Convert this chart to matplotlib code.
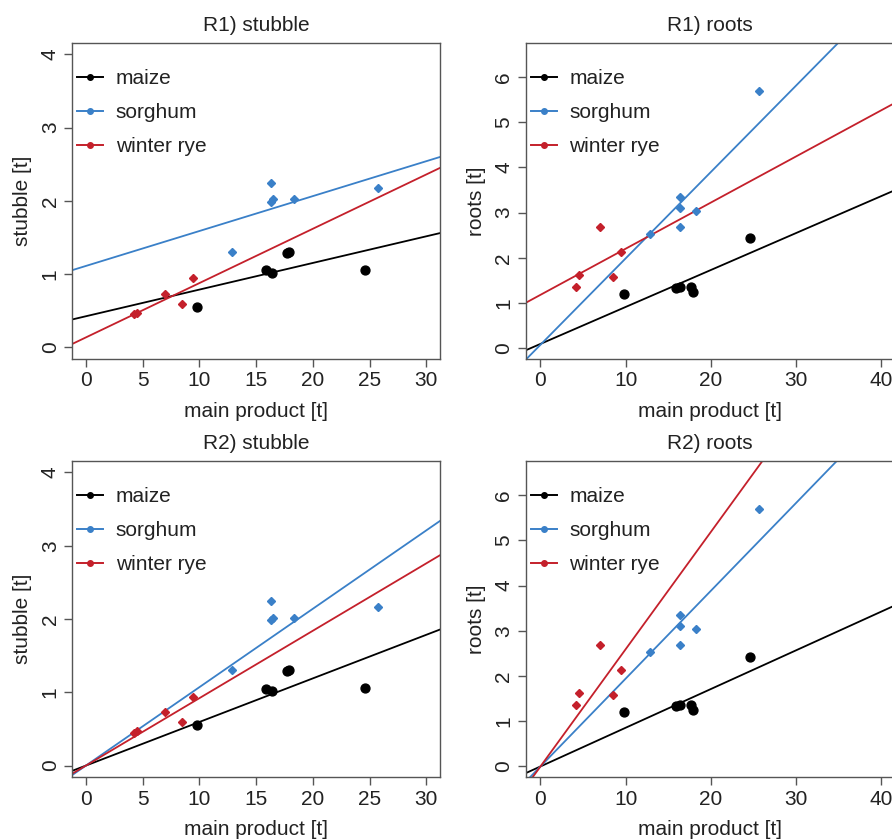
import matplotlib
matplotlib.use("Agg")
import matplotlib.pyplot as plt
import numpy as np

plt.rcParams['font.family'] = ['Liberation Sans', 'DejaVu Sans']

# ---- data ----
crops = ["maize", "sorghum", "winter rye"]
colors = ["#000000", "#3a80c8", "#c4202b"]

main_maize = [9.8, 15.9, 16.4, 17.7, 17.9, 24.6]
stubble_maize = [0.55, 1.05, 1.02, 1.29, 1.30, 1.06]
roots_maize = [1.20, 1.33, 1.35, 1.36, 1.25, 2.43]

main_sorghum = [12.9, 16.35, 16.45, 16.35, 18.3, 25.7]
stubble_sorghum = [1.30, 2.24, 2.02, 1.98, 2.02, 2.17]
roots_sorghum = [2.52, 3.34, 3.10, 2.69, 3.03, 5.69]

main_rye = [4.2, 4.5, 7.0, 8.5, 9.45]
stubble_rye = [0.45, 0.47, 0.73, 0.59, 0.94]
roots_rye = [1.35, 1.63, 2.68, 1.57, 2.13]

# regression lines (intercept, slope) per crop: maize, sorghum, winter rye
r1_stubble_intercept = [0.424, 1.111, 0.135]
r1_stubble_slope = [0.0364, 0.0477, 0.0742]
r1_roots_intercept = [0.094, 0.075, 1.18]
r1_roots_slope = [0.0817, 0.191, 0.102]
r2_stubble_intercept = [0.0, 0.0, 0.0]
r2_stubble_slope = [0.0595, 0.107, 0.092]
r2_roots_intercept = [0.0, 0.0, 0.0]
r2_roots_slope = [0.0855, 0.194, 0.259]

stubble_xticks = [0, 5, 10, 15, 20, 25, 30]
stubble_yticks = [0, 1, 2, 3, 4]
roots_xticks = [0, 10, 20, 30, 40]
roots_yticks = [0, 1, 2, 3, 4, 5, 6]

mains = [main_maize, main_sorghum, main_rye]
stubbles = [stubble_maize, stubble_sorghum, stubble_rye]
roots = [roots_maize, roots_sorghum, roots_rye]

W, H = 892, 839
fig = plt.figure(figsize=(W / 100, H / 100), dpi=100)

FS = 15
SPINE = "#555555"
TXT = "#222222"


def px_axes(left, top, right, bottom):
    return fig.add_axes([left / W, 1 - bottom / H, (right - left) / W, (bottom - top) / H])


def panel(ax, title, ylabel, ys, intercepts, slopes, xlim, ylim, xticks, yticks):
    for i in range(3):
        if i == 0:
            ax.plot(mains[i], ys[i], linestyle="none", marker="o", ms=6.4,
                    color=colors[i], zorder=3)
        else:
            ax.plot(mains[i], ys[i], linestyle="none", marker="D", ms=3.6,
                    color=colors[i], zorder=3)
    xx = np.array(xlim)
    for i in range(3):
        ax.plot(xx, intercepts[i] + slopes[i] * xx, color=colors[i], lw=1.3, zorder=2)
    ax.set_xlim(xlim)
    ax.set_ylim(ylim)
    ax.set_xticks(xticks)
    ax.set_xticklabels([str(t) for t in xticks])
    ax.set_yticks(yticks)
    ax.set_yticklabels([str(t) for t in yticks], rotation=90, va="center")
    ax.tick_params(direction="out", length=6, width=1, color=SPINE,
                   labelsize=FS, labelcolor=TXT, pad=3)
    for s in ax.spines.values():
        s.set_color(SPINE)
        s.set_linewidth(1.0)
    ax.set_title(title, fontsize=FS, color=TXT, pad=8.5)
    ax.set_xlabel("main product [t]", fontsize=FS, color=TXT, labelpad=8)
    ax.set_ylabel(ylabel, fontsize=FS, color=TXT, labelpad=6)
    handles = [plt.Line2D([], [], color=colors[i], lw=1.4, marker="o", ms=4)
               for i in range(3)]
    ax.legend(handles, crops, loc="upper left", bbox_to_anchor=(0.013, 0.917),
              frameon=False, fontsize=FS, borderpad=0, borderaxespad=0,
              handlelength=1.25, handletextpad=0.6, labelspacing=0.72,
              labelcolor=TXT)


ax1 = px_axes(72.3, 42.7, 440, 359)
panel(ax1, "R1) stubble", "stubble [t]", stubbles, r1_stubble_intercept,
      r1_stubble_slope, (-1.2, 31.2), (-0.16, 4.16), stubble_xticks, stubble_yticks)

ax2 = px_axes(526, 42.7, 893.7, 359)
panel(ax2, "R1) roots", "roots [t]", roots, r1_roots_intercept,
      r1_roots_slope, (-1.7, 41.5), (-0.24, 6.76), roots_xticks, roots_yticks)

ax3 = px_axes(72.3, 460.7, 440, 777.3)
panel(ax3, "R2) stubble", "stubble [t]", stubbles, r2_stubble_intercept,
      r2_stubble_slope, (-1.2, 31.2), (-0.16, 4.16), stubble_xticks, stubble_yticks)

ax4 = px_axes(526, 460.7, 893.7, 777.3)
panel(ax4, "R2) roots", "roots [t]", roots, r2_roots_intercept,
      r2_roots_slope, (-1.7, 41.5), (-0.24, 6.76), roots_xticks, roots_yticks)

fig.savefig("out.png", dpi=100)
